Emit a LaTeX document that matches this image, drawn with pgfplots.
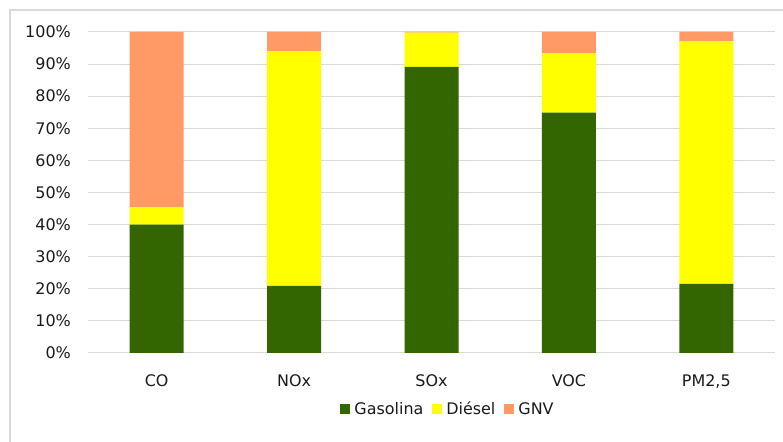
\documentclass[border=0pt]{standalone}
\usepackage{fontspec}
\setmainfont{DejaVu Sans}
\usepackage{pgfplots}
\pgfplotsset{compat=1.18}
\definecolor{gas}{HTML}{336600}
\definecolor{die}{HTML}{FFFF00}
\definecolor{gnv}{HTML}{FF9966}
\definecolor{gridc}{HTML}{D9D9D9}
\begin{document}
\begin{tikzpicture}[x=1bp,y=1bp]
\path[use as bounding box] (0,0) rectangle (783,442);
\draw[gridc, line width=1.5bp] (10,0) -- (10,432) -- (783,432);
\begin{axis}[
  at={(88bp,89bp)}, anchor=south west,
  scale only axis, width=687bp, height=321bp,
  ybar stacked, bar width=54bp,
  xmin=-0.5, xmax=4.5, ymin=0, ymax=100,
  xtick={0,1,2,3,4},
  xticklabels={CO,NOx,SOx,VOC,{PM2,5}},
  ytick={0,10,...,100},
  yticklabel={\pgfmathprintnumber{\tick}\%},
  /pgf/number format/assume math mode=true,
  ymajorgrids, grid style={gridc, line width=1bp},
  axis line style={draw=none},
  major tick length=0pt,
  tick label style={font=\fontsize{16}{19}\selectfont, text=black!90},
  yticklabel style={inner sep=0pt, xshift=-17bp},
  xticklabel style={inner sep=0pt, yshift=-21bp},
  legend style={at={(axis description cs:0.5226,-0.1745)}, anchor=center,
    draw=none, fill=none, legend columns=3,
    font=\fontsize{16}{19}\selectfont, text=black!90,
    nodes={inner sep=0pt},
    /tikz/every odd column/.append style={column sep=4bp},
    /tikz/every even column/.append style={column sep=9bp},
    inner sep=0pt},
  legend image code/.code={\fill[#1] (0bp,-5bp) rectangle (10bp,5bp);},
]
\addplot[fill=gas, draw=none] coordinates {(0,40) (1,20.9) (2,89.1) (3,74.9) (4,21.5)};
\addplot[fill=die, draw=none] coordinates {(0,5.4) (1,73.1) (2,10.7) (3,18.4) (4,75.6)};
\addplot[fill=gnv, draw=none] coordinates {(0,54.6) (1,6.0) (2,0.2) (3,6.7) (4,2.9)};
\legend{Gasolina, Diésel, GNV}
\end{axis}
\end{tikzpicture}
\end{document}
